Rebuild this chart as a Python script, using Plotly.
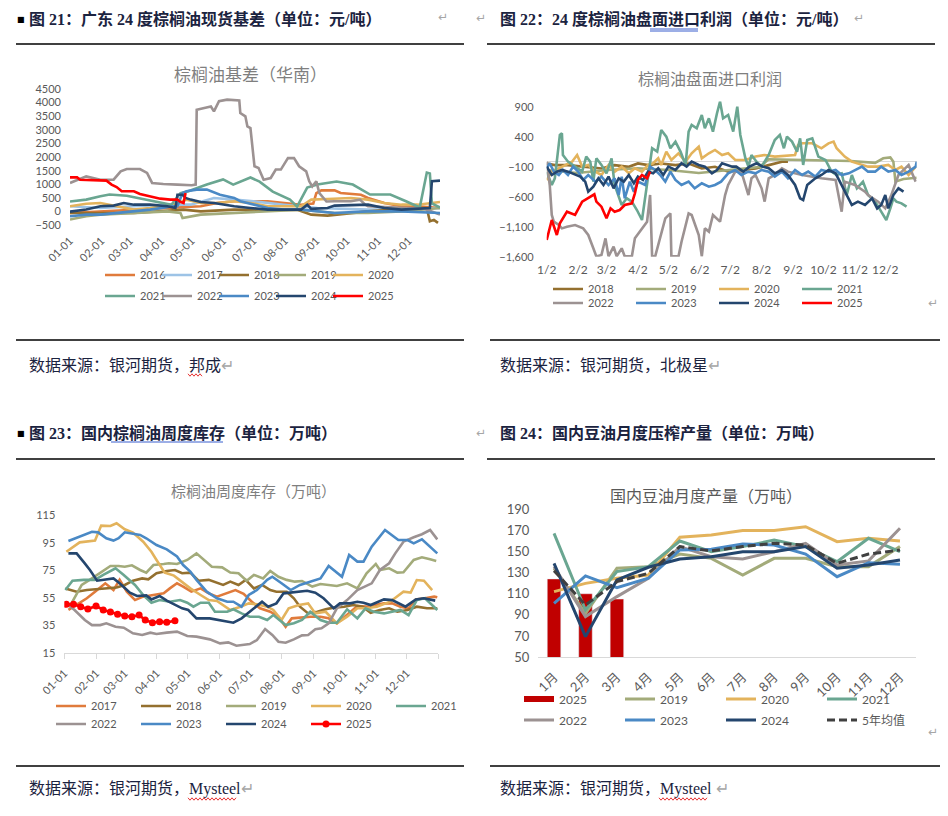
import plotly.graph_objects as go

W, H = 948, 816


def px(x):
    return x / W


def py(y):
    return 1 - y / H


# ---------------- shared tick labels / categories ----------------
MONTH_DAYS = [0, 31, 59, 90, 120, 151, 181, 212, 243, 273, 304, 334]
MD_TICKS = ["01-01", "02-01", "03-01", "04-01", "05-01", "06-01",
            "07-01", "08-01", "09-01", "10-01", "11-01", "12-01"]
SLASH_TICKS = ["1/2", "2/2", "3/2", "4/2", "5/2", "6/2",
               "7/2", "8/2", "9/2", "10/2", "11/2", "12/2"]
MONTHS = ["1月", "2月", "3月", "4月", "5月", "6月",
          "7月", "8月", "9月", "10月", "11月", "12月"]

C16 = "#e07b3c"
C17_LIGHT = "#9dc3e6"
C18 = "#94702f"
C19 = "#a3ab7a"
C20 = "#e3b35c"
C21 = "#6aa691"
C22 = "#9c9292"
C23 = "#4a89c5"
C24 = "#24466e"
C25 = "#ff0000"
CBAR = "#c00000"
CAVG = "#404040"

# ---------------- chart 21: palm oil basis (South China), (day, yuan/t) ----------------
basis_2016 = [(0, -50), (30, 10), (63, 75), (96, 135), (129, 195), (145, 317), (162, 380), (195, 380),
              (211, 317), (228, 255), (240, 300), (243, 680), (248, 780), (261, 780), (267, 680),
              (287, 620), (294, 500), (310, 317), (327, 195), (343, 195), (365, 135)]
basis_2017 = [(0, 195), (30, 135), (63, 195), (96, 255), (119, 255), (142, 500), (162, 440), (181, 380),
              (211, 255), (244, 135), (294, 75), (327, 75), (365, 135)]
basis_2018 = [(0, -50), (63, -50), (112, 75), (129, 10), (162, 75), (195, 75), (225, 60), (238, -110),
              (254, -145), (294, 10), (343, 135), (352, 130), (355, -350), (359, -300), (363, -410)]
basis_2019 = [(0, -290), (16, -170), (30, -110), (63, -50), (96, 10), (109, -50), (111, -230), (129, -110),
              (162, -50), (195, 10), (228, 75), (261, -50), (294, -50), (327, 10), (365, 135)]
basis_2020 = [(0, 195), (16, 290), (30, 317), (46, 195), (63, 75), (79, 135), (102, 255), (115, 440),
              (129, 317), (145, 317), (162, 380), (178, 317), (195, 195), (228, 195), (238, 440),
              (254, 465), (277, 500), (294, 440), (310, 317), (327, 255), (343, 255), (365, 355)]
basis_2021 = [(0, 370), (16, 440), (30, 560), (39, 625), (56, 580), (76, 440), (92, 330), (100, 250),
              (109, 680), (116, 735), (135, 990), (151, 1180), (161, 990), (178, 1250), (187, 1100),
              (200, 735), (217, 440), (224, 185), (234, 880), (244, 990), (263, 1100), (279, 990),
              (296, 625), (316, 625), (332, 370), (345, 150), (352, 1430), (355, 1400), (357, 300),
              (365, 150)]
basis_2022 = [(0, 1050), (16, 1290), (30, 1170), (43, 1170), (50, 1475), (56, 1560), (69, 1560),
              (76, 1415), (81, 1050), (92, 1010), (106, 990), (120, 965), (124, 990), (125, 3730),
              (139, 3850), (142, 3670), (147, 4040), (155, 4100), (167, 4070), (168, 3610), (173, 3490),
              (175, 3120), (178, 3060), (182, 1660), (186, 1600), (191, 1170), (198, 1230), (203, 1540),
              (208, 1540), (215, 1960), (221, 1960), (226, 1660), (233, 1475), (236, 1110), (239, 925),
              (243, 1110), (246, 680), (253, 370), (261, 380), (277, 380), (286, 440), (291, 260),
              (294, 195), (320, 150), (350, 100), (365, -110)]
basis_2023 = [(0, -170), (16, -110), (30, -110), (46, -50), (63, 10), (79, 75), (102, 195), (106, 200),
              (111, 680), (115, 745), (125, 805), (135, 805), (148, 620), (162, 500), (168, 380),
              (181, 255), (195, 135), (211, 75), (228, 75), (261, -50), (294, 10), (327, 10), (365, -50)]
basis_2024 = [(0, 0), (16, 75), (30, 195), (43, 220), (53, 317), (63, 255), (79, 255), (96, 195),
              (104, 135), (106, 620), (111, 620), (114, 500), (119, 440), (129, 355), (142, 317),
              (162, 195), (178, 135), (195, 75), (228, 75), (234, 255), (238, 100), (254, 135),
              (261, 220), (294, 255), (310, 135), (327, 75), (355, 135), (357, 1110), (365, 1135)]
basis_2025 = [(0, 1255), (7, 1255), (10, 1170), (26, 1135), (36, 1135), (41, 990), (46, 900), (51, 745),
              (63, 745), (69, 645), (79, 560), (89, 475), (99, 440), (106, 440), (109, 355), (112, 317),
              (114, 680)]

# ---------------- chart 22: import profit on futures, (day from Jan 2, yuan/t) ----------------
profit_2018 = [(0, -40), (8, -68), (21, -68), (38, -96), (54, -124), (67, -68), (81, -96), (90, -40),
               (100, -68), (113, -40), (127, -68), (140, -40), (153, -124), (166, -96), (179, -179),
               (192, -152), (206, -124), (219, -68), (232, -12), (238, -12)]
profit_2019 = [(0, -150), (30, -200), (60, -150), (90, -120), (120, -150), (150, -200), (180, -150),
               (210, -100), (219, 30), (260, 20), (300, 0), (324, -30), (332, 46), (339, 60), (342, -10),
               (344, -344), (352, -300), (365, -280)]
profit_2020 = [(0, -316), (5, -177), (12, -121), (18, -65), (25, -10), (30, 102), (35, -93), (41, -65),
               (48, -177), (54, -233), (61, -65), (67, -177), (74, -93), (81, -205), (87, -121), (94, -177),
               (100, -65), (105, -37), (110, 46), (113, -65), (118, 158), (123, 18), (130, 130), (137, -10),
               (143, 130), (150, 242), (153, 46), (160, 130), (166, 186), (173, 102), (179, 130), (186, 18),
               (196, 18), (206, 75), (215, 102), (225, 75), (245, 102), (248, 269), (252, 297), (262, 297),
               (271, 214), (278, 297), (283, 325), (286, 214), (291, 130), (294, 75), (301, -10),
               (307, -37), (317, -93), (327, -93), (337, -65), (344, -149), (350, -93), (357, -233),
               (364, -93)]
profit_2021 = [(0, -177), (5, -400), (8, -288), (13, 437), (15, 465), (16, 102), (21, -10), (28, -93),
               (35, -177), (39, 75), (43, -10), (46, -344), (49, 46), (54, -65), (59, -205), (64, 46),
               (67, -400), (74, -735), (79, -623), (84, -679), (89, -819), (94, -986), (97, -623),
               (100, -344), (104, 214), (109, 158), (113, 521), (118, 409), (122, 214), (127, 325),
               (132, 158), (137, -65), (140, 493), (143, 604), (148, 548), (153, 772), (156, 548),
               (160, 716), (164, 493), (168, 800), (171, 995), (174, 716), (179, 772), (184, 493),
               (188, 911), (191, 437), (196, 46), (199, -93), (202, 102), (207, -10), (212, -93),
               (219, 102), (225, 353), (230, 437), (234, 214), (237, 409), (242, 325), (247, 158),
               (250, 381), (253, -65), (257, 353), (262, 381), (268, 75), (275, 18), (281, -177),
               (286, -233), (291, -205), (296, -568), (301, -233), (306, -456), (312, -344), (317, -568),
               (324, -679), (330, -847), (335, -986), (339, -791), (342, -623), (345, -679), (350, -707),
               (355, -763)]
profit_2022 = [(0, -10), (3, -400), (5, -902), (7, -1014), (12, -1070), (15, -1126), (20, -1098),
               (28, -1070), (36, -1126), (41, -1237), (46, -1460), (49, -1595), (54, -1572), (58, -1293),
               (61, -1595), (66, -1432), (69, -1595), (74, -1460), (77, -1595), (84, -1595), (87, -1293),
               (94, -1126), (99, -1014), (102, -568), (104, -1595), (107, -1595), (117, -958), (122, -875),
               (123, -1595), (130, -1595), (133, -1349), (140, -875), (143, -902), (150, -1237),
               (153, -1595), (156, -1126), (160, -1180), (164, -902), (171, -1014), (176, -568),
               (179, -400), (186, -177), (192, -177), (199, -568), (202, -288), (206, -233), (212, -456),
               (215, -679), (219, -288), (225, -233), (232, -121), (238, -177), (252, -233), (271, -288),
               (285, -316), (291, -847), (294, -344), (304, -400), (314, -512), (317, -568), (327, -679),
               (334, -791), (340, -568), (347, -233), (353, -121), (357, -65), (364, -344)]
profit_2023 = [(0, -121), (3, -37), (7, -177), (12, -233), (16, -149), (21, -233), (26, -93), (31, -177),
               (36, -316), (41, -233), (48, -344), (54, -260), (61, -400), (67, -288), (71, -568),
               (74, -260), (77, -623), (82, -344), (86, -512), (90, -344), (97, -400), (102, -93),
               (107, -149), (112, -233), (117, -344), (122, -177), (127, -316), (133, -400), (140, -344),
               (146, -456), (153, -371), (160, -428), (166, -400), (172, -344), (179, -205), (186, -149),
               (192, -233), (199, -177), (206, -205), (212, -149), (219, -177), (225, -260), (232, -177),
               (238, -288), (245, -149), (252, -233), (258, -177), (265, -260), (271, -149), (278, -177),
               (285, -149), (291, -233), (298, -205), (304, -149), (311, -93), (317, -177), (324, -177),
               (330, -93), (337, -177), (344, -149), (350, -233), (357, -177), (364, -93), (365, -10)]
profit_2024 = [(0, -93), (5, -233), (10, -177), (15, -149), (21, -177), (28, -233), (33, -260),
               (38, -344), (41, -512), (46, -428), (51, -288), (56, -400), (61, -260), (66, -456),
               (71, -288), (76, -344), (81, -233), (86, -371), (90, -260), (95, -316), (100, -177),
               (105, -205), (110, -121), (115, -233), (120, -93), (127, -149), (133, -37), (138, -93),
               (143, -10), (150, -65), (156, -93), (163, -205), (168, -149), (173, -37), (178, -65),
               (183, -93), (187, -93), (194, -177), (200, -93), (207, -37), (213, -93), (219, -121),
               (225, -205), (232, -149), (238, -233), (245, -400), (250, -623), (253, -651), (257, -400),
               (265, -289), (271, -233), (278, -149), (285, -205), (291, -400), (296, -568), (301, -735),
               (307, -679), (314, -735), (321, -623), (326, -791), (330, -735), (334, -568), (337, -791),
               (342, -568), (347, -456), (352, -512)]
profit_2025 = [(0, -1321), (5, -986), (10, -1237), (13, -1042), (20, -847), (28, -902), (35, -679),
               (41, -623), (47, -556), (49, -679), (54, -763), (59, -958), (63, -791), (67, -847),
               (72, -819), (77, -735), (84, -707), (87, -540), (90, -316), (94, -233), (99, -288),
               (102, -177)]

# ---------------- chart 23: weekly palm oil stocks, (day, 10kt) ----------------
inv_2017 = [(4, 46.1), (12, 49.7), (22, 54.6), (30, 59.4), (40, 65.5), (48, 60.6), (54, 68), (61, 59.4),
            (69, 53.3), (77, 55.8), (87, 57), (97, 58.2), (103, 61.8), (110, 65.5), (116, 63.1),
            (124, 59.4), (133, 61.8), (141, 58.2), (149, 55.8), (159, 58.7), (167, 60.6), (175, 57.8),
            (183, 52.1), (191, 47.3), (201, 44.8), (209, 41.2), (216, 33.9), (222, 40), (230, 40.7),
            (240, 41.2), (250, 41.2), (258, 40), (266, 36.3), (276, 42.4), (286, 49), (295, 48.5),
            (302, 49.7), (312, 50.9), (320, 50.9), (328, 48.5), (336, 47.3), (343, 53.8), (352, 54.6),
            (361, 55.8), (364, 55.3)]
inv_2018 = [(1, 61.8), (12, 59.4), (22, 60.6), (32, 61.1), (41, 61.8), (51, 62.5), (59, 64.3), (67, 67.4),
            (76, 69.1), (82, 68.4), (90, 72.8), (100, 74.5), (108, 75.2), (115, 72.8), (123, 73.3),
            (131, 67.4), (141, 68), (149, 66), (155, 64.3), (162, 66.7), (170, 64.3), (177, 68),
            (185, 61.8), (193, 64.3), (201, 60.6), (207, 59.4), (217, 59.4), (224, 54.6), (230, 48.5),
            (238, 43.6), (247, 44.8), (255, 46.6), (263, 47.8), (273, 48.5), (282, 49.7), (291, 48.5),
            (299, 44.1), (308, 46.1), (317, 47.3), (325, 44.8), (335, 46.1), (344, 48.5), (354, 47.3),
            (364, 47.3)]
inv_2019 = [(7, 50.9), (17, 64.3), (27, 69.1), (35, 73.3), (45, 78.1), (53, 78.1), (59, 77.6), (66, 78.6),
            (74, 75.2), (80, 73.3), (87, 78.8), (97, 79.6), (102, 80.1), (110, 79.6), (120, 82.5),
            (129, 87.3), (136, 82.5), (144, 77.6), (154, 77.1), (162, 73.3), (170, 72.8), (178, 67.4),
            (185, 71.6), (194, 69.1), (201, 74.5), (209, 70.3), (217, 68), (225, 66.7), (232, 67.2),
            (242, 63.1), (250, 65), (260, 64.3), (266, 63.6), (276, 65.5), (286, 61.8), (295, 72.8),
            (304, 79.6), (308, 75.2), (317, 76.4), (325, 73.3), (331, 73.5), (341, 82.5), (349, 84.4),
            (357, 83.0), (363, 81.8)]
inv_2020 = [(2, 88.5), (15, 95.3), (30, 96.6), (36, 107.5), (45, 107.2), (51, 109.2), (59, 104.8),
            (67, 102.4), (77, 95.8), (85, 88.5), (90, 82.5), (98, 73.3), (107, 71.1), (115, 66.7),
            (123, 61.8), (133, 57), (141, 53.3), (149, 52.6), (162, 46.1), (172, 48.5), (180, 50.9),
            (188, 50.2), (198, 48.5), (204, 46.1), (212, 38.8), (219, 47.3), (229, 49.7), (238, 50.9),
            (245, 43.6), (255, 44.8), (266, 36.3), (276, 41.2), (286, 47.3), (295, 47.3), (305, 48.5),
            (318, 52.1), (331, 59.4), (338, 58.7), (344, 67.9), (351, 67.4), (359, 60.6)]
inv_2021 = [(1, 60.6), (8, 67.4), (19, 68), (30, 68), (38, 71.6), (50, 76.4), (58, 71.6), (69, 64.3),
            (77, 57), (85, 51.4), (93, 53.3), (103, 52.1), (113, 53.3), (120, 51.4), (126, 48.5),
            (133, 51.4), (141, 51.4), (147, 44.8), (159, 44.8), (165, 46.6), (173, 43.6), (181, 41.2),
            (190, 41.2), (198, 38.8), (204, 42.4), (216, 35.1), (224, 36.4), (232, 38.8), (240, 44.8),
            (250, 38.8), (258, 36.8), (266, 36.8), (276, 46.6), (286, 40), (294, 47.3), (302, 44.8),
            (312, 43.6), (320, 44.8), (328, 46.1), (336, 42.4), (344, 53.3), (352, 54.6), (359, 49.7),
            (364, 46.1)]
inv_2022 = [(4, 49.7), (10, 46.1), (20, 38.8), (27, 35.1), (35, 35.1), (41, 36.4), (50, 33.9), (58, 33.2),
            (67, 29.1), (76, 27.9), (84, 29.6), (90, 28.6), (100, 29.6), (110, 30.3), (120, 27.1),
            (129, 26.7), (142, 24.7), (152, 21.8), (160, 22.5), (168, 20.1), (181, 21.3), (188, 24.2),
            (196, 32.2), (203, 27.9), (209, 23.0), (216, 22.3), (224, 24.7), (232, 27.6), (238, 27.9),
            (245, 32.0), (251, 32.8), (258, 36.4), (266, 47.3), (276, 53.3), (286, 60.6), (294, 63.1),
            (300, 65.5), (308, 75.2), (317, 80.1), (323, 87.3), (331, 95.8), (341, 99.0), (349, 101.2),
            (357, 104.3), (364, 97.5)]
inv_2023 = [(4, 96.3), (16, 100), (27, 103), (33, 102.6), (41, 98.3), (48, 96.6), (53, 98.3), (59, 102.6),
            (74, 100.7), (80, 98.3), (90, 93.4), (100, 90.2), (110, 85), (116, 78.8), (123, 74),
            (129, 68), (139, 59.4), (149, 54.6), (159, 52.1), (165, 52.1), (173, 48.5), (180, 57),
            (188, 60.6), (198, 68), (203, 70.3), (212, 65.5), (221, 60.6), (230, 64.3), (240, 66.7),
            (250, 69.1), (258, 78.1), (271, 70.3), (278, 86.1), (286, 81.3), (292, 81.3), (300, 92.2),
            (313, 104.3), (326, 97.0), (335, 97.0), (341, 94.6), (349, 97.5), (357, 92.2), (364, 87.3)]
inv_2024 = [(4, 87.3), (12, 87.3), (20, 80.0), (25, 75.2), (32, 67.4), (41, 68.4), (48, 69.1), (54, 65.5),
            (64, 58.7), (71, 56.3), (80, 56.7), (85, 53.8), (93, 56.3), (100, 52.9), (108, 50.2),
            (115, 47.3), (121, 46.1), (129, 40), (142, 40), (154, 38.3), (165, 36.8), (173, 40),
            (181, 44.8), (193, 52.1), (199, 48.5), (207, 50.9), (214, 58.2), (227, 59.4), (237, 60.1),
            (245, 58.7), (253, 54.6), (263, 47.3), (269, 50.9), (279, 50.9), (286, 52.1), (292, 51.4),
            (299, 49.7), (312, 53.8), (320, 53.3), (333, 48.5), (343, 53.8), (351, 54.6), (362, 52.9)]
inv_2025 = [(2, 50.2), (9, 50.2), (16, 48.5), (23, 46.8), (31, 49), (38, 46.1), (45, 44.6), (52, 42.9),
            (59, 41.7), (66, 41.2), (73, 42.4), (79, 38.8), (86, 36.8), (93, 37.6), (100, 37.1), (108, 38.3)]

# ---------------- chart 24: monthly soybean oil output (10kt) ----------------
soy_2025 = [124, 110, 105]
soy_2019 = [134, 91.5, 134, 135.6, 147.5, 143.4, 127.7, 143.4, 143.4, 135.6, 135.6, 154.5]
soy_2020 = [112, 119.8, 124.6, 127.7, 163.3, 165.5, 169.6, 169.6, 173.3, 159.2, 162.3, 159.8]
soy_2021 = [167, 94.7, 130.9, 135.6, 159.8, 149.7, 154.5, 160.7, 154.5, 140.3, 162.3, 149.7]
soy_2022 = [135.6, 88.4, 107.3, 124.6, 154.5, 145, 142.8, 149.7, 157.6, 137.2, 141, 171.8]
soy_2023 = [101, 126.8, 115.8, 124.6, 151.3, 152, 157, 156, 147.5, 126.1, 139.3, 137.8]
soy_2024 = [138.7, 69.5, 123, 135, 142.8, 145, 149.7, 149.7, 154.5, 134, 137.2, 141.9]
soy_avg5 = [131.8, 99.4, 121.4, 129.3, 154.5, 150.4, 154.5, 157.6, 156, 138.7, 147.5, 151.3]

fig = go.Figure()


def add_pairs(pts, name, color, xa, ya, legend, width=2.5, markers=False, lw=None):
    fig.add_trace(go.Scatter(
        x=[p[0] for p in pts], y=[p[1] for p in pts],
        mode="lines+markers" if markers else "lines",
        name=name, legend=legend, xaxis=xa, yaxis=ya, legendwidth=lw,
        line=dict(color=color, width=width),
        marker=dict(size=7, color=color),
        hoverinfo="skip"))


# chart 21
for pts, nm, col, lg, lw in [(basis_2016, "2016", C16, "legend", None),
                             (basis_2017, "2017", C17_LIGHT, "legend", None),
                             (basis_2018, "2018", C18, "legend", None),
                             (basis_2019, "2019", C19, "legend", None),
                             (basis_2020, "2020", C20, "legend", 30),
                             (basis_2021, "2021", C21, "legend2", None),
                             (basis_2022, "2022", C22, "legend2", None),
                             (basis_2023, "2023", C23, "legend2", None),
                             (basis_2024, "2024", C24, "legend2", None),
                             (basis_2025, "2025", C25, "legend2", 30)]:
    add_pairs(pts, nm, col, "x", "y", lg, width=2.6, lw=lw)

# chart 22
for pts, nm, col, lg in [(profit_2018, "2018", C18, "legend3"), (profit_2019, "2019", C19, "legend3"),
                         (profit_2020, "2020", C20, "legend3"), (profit_2021, "2021", C21, "legend3"),
                         (profit_2022, "2022", C22, "legend4"), (profit_2023, "2023", C23, "legend4"),
                         (profit_2024, "2024", C24, "legend4"), (profit_2025, "2025", C25, "legend4")]:
    add_pairs(pts, nm, col, "x2", "y2", lg, width=2.6)

# chart 23
for pts, nm, col, lg in [(inv_2017, "2017", C16, "legend5"), (inv_2018, "2018", C18, "legend5"),
                         (inv_2019, "2019", C19, "legend5"), (inv_2020, "2020", C20, "legend5"),
                         (inv_2021, "2021", C21, "legend5"), (inv_2022, "2022", C22, "legend6"),
                         (inv_2023, "2023", C23, "legend6"), (inv_2024, "2024", C24, "legend6")]:
    add_pairs(pts, nm, col, "x3", "y3", lg, width=2.6)
add_pairs(inv_2025, "2025", C25, "x3", "y3", "legend6", width=2.6, markers=True)

# chart 24
fig.add_trace(go.Bar(x=MONTHS[:len(soy_2025)], y=soy_2025, width=0.43, marker=dict(color=CBAR),
                     showlegend=False, xaxis="x4", yaxis="y4", hoverinfo="skip", legendgroup="b25"))
fig.add_trace(go.Scatter(x=[None], y=[None], mode="lines", name="2025", legend="legend7",
                         legendgroup="b25", line=dict(color=CBAR, width=6), xaxis="x4", yaxis="y4"))
for vals, nm, col, lg in [(soy_2019, "2019", C19, "legend7"), (soy_2020, "2020", C20, "legend7"),
                          (soy_2021, "2021", C21, "legend7"), (soy_2022, "2022", C22, "legend8"),
                          (soy_2023, "2023", C23, "legend8"), (soy_2024, "2024", C24, "legend8")]:
    fig.add_trace(go.Scatter(x=MONTHS, y=vals, mode="lines", name=nm, legend=lg,
                             line=dict(color=col, width=3), xaxis="x4", yaxis="y4", hoverinfo="skip"))
fig.add_trace(go.Scatter(x=MONTHS, y=soy_avg5, mode="lines", name="5年均值", legend="legend8",
                         line=dict(color=CAVG, width=3, dash="8px,4px"), xaxis="x4", yaxis="y4",
                         hoverinfo="skip"))

TICKC = "#595959"
AX = dict(showgrid=False, zeroline=False, showline=False, ticks="", automargin=False,
          tickfont=dict(family="Lato, Noto Sans CJK SC", size=11, color=TICKC))


def ax(**kw):
    d = dict(AX)
    d.update(kw)
    return d


def leg(x0, y0, ew, size=11):
    return dict(x=px(x0), y=py(y0), xanchor="left", yanchor="middle", orientation="h",
                entrywidth=ew, entrywidthmode="pixels", bgcolor="rgba(0,0,0,0)", borderwidth=0,
                font=dict(family="Lato, Noto Sans CJK SC", size=size, color=TICKC),
                itemclick=False, itemdoubleclick=False, traceorder="normal")


HEAD_FONT = dict(family="Liberation Serif, Noto Sans CJK SC", size=16, color="#1b2340")
SRC_FONT = dict(family="Liberation Serif, Noto Sans CJK SC", size=16, color="#1b2340")
RET_FONT = dict(family="DejaVu Sans", size=12, color="#a6a6a6")


def txt(x, y, s, font, xanchor="left"):
    return dict(x=px(x), y=py(y), xref="paper", yref="paper", text=s, showarrow=False,
                xanchor=xanchor, yanchor="middle", font=font)


def title(x, y, s, size, color):
    return txt(x, y, s, dict(family="Noto Sans CJK SC", size=size, color=color), xanchor="center")


annotations = [
    txt(15, 19, "■", dict(family="DejaVu Sans", size=8, color="#000000")),
    txt(27, 19, "<b>图 21：广东 24 度棕榈油现货基差（单位：元/吨）</b>", HEAD_FONT),
    txt(436, 17, "↵", RET_FONT),
    txt(474, 18, "↵", RET_FONT),
    txt(498, 19, "<b>图 22：24 度棕榈油盘面进口利润（单位：元/吨）</b>", HEAD_FONT),
    txt(852, 18, "↵", RET_FONT),
    txt(15, 433, "■", dict(family="DejaVu Sans", size=8, color="#000000")),
    txt(27, 433, "<b>图 23：国内棕榈油周度库存（单位：万吨）</b>", HEAD_FONT),
    txt(474, 433, "↵", RET_FONT),
    txt(498, 433, "<b>图 24：国内豆油月度压榨产量（单位：万吨）</b>", HEAD_FONT),
    title(250, 73, "棕榈油基差（华南）", 17, "#7f7f7f"),
    title(710, 78, "棕榈油盘面进口利润", 16, "#7f7f7f"),
    title(253, 490, "棕榈油周度库存（万吨）", 15, "#7f7f7f"),
    title(706, 495, "国内豆油月度产量（万吨）", 16, "#595959"),
    txt(926, 303, "↵", RET_FONT),
    txt(926, 732, "↵", RET_FONT),
    txt(27, 365, "数据来源：银河期货，邦成<span style='color:#a6a6a6'>↵</span>", SRC_FONT),
    txt(498, 365, "数据来源：银河期货，北极星<span style='color:#a6a6a6'>↵</span>", SRC_FONT),
    txt(27, 789, "数据来源：银河期货，Mysteel<span style='color:#a6a6a6'>↵</span>", SRC_FONT),
    txt(498, 789, "数据来源：银河期货，Mysteel <span style='color:#a6a6a6'>↵</span>", SRC_FONT),
]


def hline(x0, x1, y, color="#000000", width=1.5):
    return dict(type="line", xref="paper", yref="paper", x0=px(x0), x1=px(x1), y0=py(y), y1=py(y),
                line=dict(color=color, width=width))


def wavy(x0, x1, y):
    pts = []
    x = x0
    k = 0
    while x <= x1:
        pts.append("%s%.5f,%.5f" % ("M" if k == 0 else "L", px(x), py(y + (1.2 if k % 2 else -1.2))))
        x += 2
        k += 1
    return dict(type="path", xref="paper", yref="paper", path=" ".join(pts),
                line=dict(color="#e00000", width=0.8))


shapes = [
    hline(16, 464, 44), hline(487, 935, 44),
    hline(16, 464, 340), hline(490, 940, 340),
    hline(16, 464, 459), hline(487, 935, 459),
    hline(16, 464, 766), hline(490, 940, 766),
    hline(650, 698, 29, "#3a5fcd", 1), hline(650, 698, 31, "#3a5fcd", 1),
    hline(111, 223, 442, "#3a5fcd", 1),
    wavy(188, 203, 375), wavy(188, 236, 799), wavy(659, 707, 799),
]

fig.update_layout(
    width=W, height=H, margin=dict(l=0, r=0, t=0, b=0),
    paper_bgcolor="white", plot_bgcolor="white", showlegend=True,
    font=dict(family="Lato, Noto Sans CJK SC", color=TICKC),
    xaxis=ax(domain=[px(70), px(440)], range=[0, 365], tickvals=MONTH_DAYS, ticktext=MD_TICKS,
             tickangle=-45, anchor="y", ticklabelstandoff=6),
    yaxis=ax(domain=[py(225.3), py(88.7)], range=[-500, 4500], dtick=500, tick0=-500, anchor="x",
             ticklabelstandoff=8),
    xaxis2=ax(domain=[px(546.7), px(916.7)], range=[0, 365], tickvals=MONTH_DAYS, ticktext=SLASH_TICKS,
              tickangle=0, anchor="y2", tickfont=dict(family="Lato", size=12, color=TICKC),
              ticklabelstandoff=4),
    yaxis2=ax(domain=[py(256.7), py(101.3)], range=[-1600, 1000],
              tickvals=[-1600, -1100, -600, -100, 400, 900], tickformat=",", anchor="x2",
              zeroline=True, zerolinecolor="#d9d9d9", zerolinewidth=1.2, ticklabelstandoff=12),
    xaxis3=ax(domain=[px(64.3), px(438.3)], range=[0, 365], tickvals=MONTH_DAYS + [365],
              ticktext=MD_TICKS + [""], tickangle=-45, anchor="y3", showline=True, linecolor="#d9d9d9",
              linewidth=1, ticks="outside", ticklen=5, tickcolor="#d9d9d9", ticklabelstandoff=4),
    yaxis3=ax(domain=[py(652.7), py(515.3)], range=[15, 115], dtick=20, tick0=15, anchor="x3",
              ticklabelstandoff=8),
    xaxis4=ax(domain=[px(538.3), px(915.7)], type="category", categoryorder="array",
              categoryarray=MONTHS, range=[-0.5, 11.5], tickangle=-45, anchor="y4", showline=True,
              linecolor="#d9d9d9", linewidth=1.2, ticklabelstandoff=6,
              tickfont=dict(family="Lato, Noto Sans CJK SC", size=13, color=TICKC)),
    yaxis4=ax(domain=[py(657.3), py(509)], range=[50, 190], dtick=20, tick0=50, anchor="x4",
              ticklabelstandoff=8, tickfont=dict(family="Lato", size=13, color=TICKC)),
    legend=leg(100, 275, 12), legend2=leg(100, 296, 12),
    legend3=leg(548, 289, 38), legend4=leg(548, 303, 38),
    legend5=leg(51, 706, 40), legend6=leg(51, 724, 40),
    legend7=leg(519, 699, 56, 12), legend8=leg(519, 720, 56, 12),
    annotations=annotations, shapes=shapes,
)

fig.write_html("out.html", config={"displayModeBar": False},
               post_script="document.body.style.margin='0';document.body.style.overflow='hidden';")
